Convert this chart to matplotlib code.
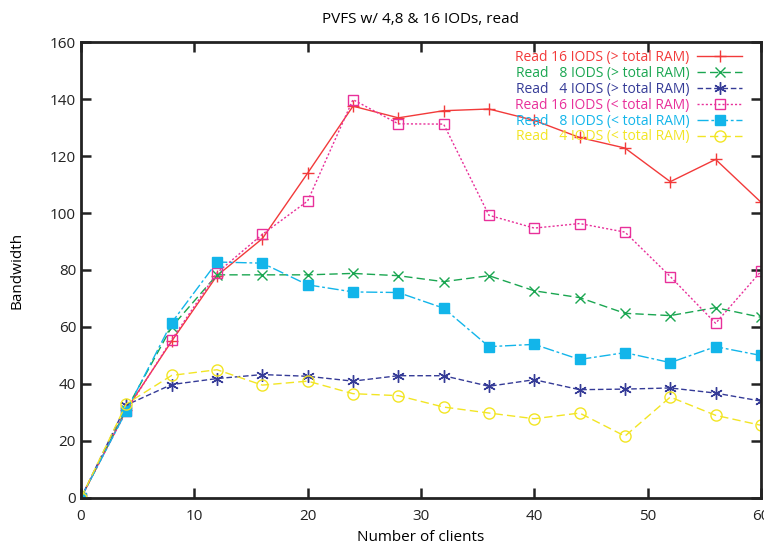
import matplotlib
matplotlib.use("Agg")
import matplotlib.pyplot as plt

plt.rcParams['font.family'] = ['Open Sans', 'DejaVu Sans']

clients = [0, 4, 8, 12, 16, 20, 24, 28, 32, 36, 40, 44, 48, 52, 56, 60]

read16_gt = [0, 31, 55, 78, 91, 114, 137.5, 133.4, 135.9, 136.5, 132.5, 126.5, 122.8, 111, 118.8, 103.8]
read8_gt = [0, 31, 60, 78.3, 78.3, 78.3, 78.8, 78, 75.9, 78, 72.7, 70.3, 64.8, 64, 66.8, 63.4]
read4_gt = [0, 32.6, 39.8, 41.9, 43.3, 42.7, 41, 42.9, 42.9, 39.2, 41.5, 38, 38.2, 38.6, 36.8, 34]
read16_lt = [0, 30.5, 55.5, 79, 92.5, 104.2, 139.8, 131.3, 131.2, 99.2, 94.7, 96.3, 93.3, 77.7, 61.3, 79.5]
read8_lt = [0, 30.5, 61.5, 82.8, 82.4, 74.8, 72.3, 72.1, 66.6, 53.1, 53.9, 48.6, 51, 47.5, 53.1, 50]
read4_lt = [0, 33, 43, 45, 39.6, 41, 36.6, 35.9, 31.9, 29.8, 27.8, 29.8, 21.7, 35.4, 29, 25.5]

labels = ['Read 16 IODS (> total RAM)', 'Read   8 IODS (> total RAM)', 'Read   4 IODS (> total RAM)',
          'Read 16 IODS (< total RAM)', 'Read   8 IODS (< total RAM)', 'Read   4 IODS (< total RAM)']

fig = plt.figure(figsize=(7.64, 5.46), dpi=100)
ax = fig.add_axes([0.106, 0.088, 0.89, 0.835])

asterisk = (6, 2, 0)
ax.plot(clients, read16_gt, color='#f23a3a', ls='-', lw=1, marker='+', ms=8, mew=1, label=labels[0])
ax.plot(clients, read8_gt, color='#1aa651', ls=(0, (6, 3)), lw=1, marker='x', ms=6.5, mew=1, label=labels[1])
ax.plot(clients, read4_gt, color='#353b97', ls=(0, (4, 2)), lw=1, marker=asterisk, ms=9, mew=1, label=labels[2])
ax.plot(clients, read16_lt, color='#e8309a', ls=(0, (1.5, 1.5)), lw=1, marker='s', ms=6.5, mew=1, mfc='none', label=labels[3])
ax.plot(clients, read8_lt, color='#12b5ea', ls=(0, (8, 2, 2, 2)), lw=1, marker='s', ms=7, mew=1, label=labels[4])
ax.plot(clients, read4_lt, color='#f2e524', ls=(0, (6, 3)), lw=1, marker='o', ms=8, mew=1, mfc='none', label=labels[5])

ax.set_xlim(0, 60)
ax.set_ylim(0, 160)
ax.set_xticks(range(0, 61, 10))
ax.set_yticks(range(0, 161, 20))
ax.tick_params(direction='in', length=7, width=1.8, top=True, right=True, labelsize=11, colors='#222222')
ax.tick_params(axis='x', pad=8)
for s in ax.spines.values():
    s.set_linewidth(2)
    s.set_color('#222222')

ax.set_title('PVFS w/ 4,8 & 16 IODs, read', fontsize=11, pad=14)
ax.set_xlabel('Number of clients', fontsize=11, labelpad=4)
ax.set_ylabel('Bandwidth', fontsize=11, labelpad=18)

ax.legend(loc='upper right', bbox_to_anchor=(0.972, 0.982), frameon=False, markerfirst=False,
          labelcolor='linecolor', fontsize=10, handlelength=3.2, labelspacing=0.06,
          borderaxespad=0, handletextpad=0.6, borderpad=0.0)

fig.savefig('out.png', dpi=100)
